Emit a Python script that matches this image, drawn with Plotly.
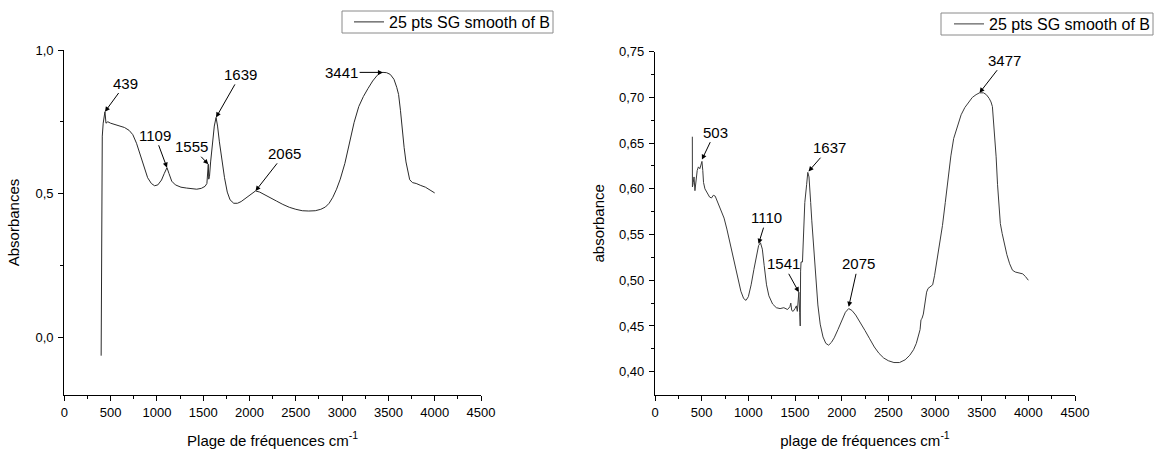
import plotly.graph_objects as go

# ---------------- data ----------------
legend_name = "25 pts SG smooth of B"

left_x = [398, 400, 403, 406, 410, 420, 439, 450, 470, 500, 550, 600, 650, 700, 740, 780, 820, 860, 900, 940,
          975, 1010, 1050, 1080, 1109, 1130, 1160, 1200, 1260, 1320, 1380, 1430, 1480, 1520, 1540, 1548, 1555,
          1560, 1568, 1580, 1600, 1620, 1639, 1655, 1675, 1700, 1730, 1760, 1790, 1830, 1870, 1910, 1950, 2000,
          2065, 2110, 2160, 2220, 2290, 2360, 2430, 2500, 2570, 2640, 2710, 2770, 2820, 2860, 2900, 2940, 2980,
          3030, 3080, 3130, 3180, 3230, 3280, 3330, 3380, 3420, 3441, 3480, 3520, 3560, 3590, 3610, 3630, 3650,
          3670, 3690, 3710, 3730, 3760, 3800, 3850, 3900, 3950, 4000]
left_y = [-0.065, 0.30, 0.51, 0.60, 0.70, 0.745, 0.785, 0.745, 0.75, 0.745, 0.74, 0.735, 0.73, 0.72, 0.705,
          0.675, 0.635, 0.59, 0.555, 0.535, 0.527, 0.53, 0.547, 0.57, 0.59, 0.57, 0.543, 0.53, 0.522, 0.519,
          0.517, 0.515, 0.518, 0.525, 0.535, 0.59, 0.602, 0.55, 0.56, 0.61, 0.68, 0.735, 0.765, 0.735, 0.68,
          0.62, 0.555, 0.505, 0.478, 0.466, 0.466, 0.472, 0.481, 0.495, 0.509, 0.505, 0.497, 0.486, 0.474,
          0.462, 0.452, 0.445, 0.44, 0.439, 0.44, 0.445, 0.453, 0.466, 0.487, 0.515, 0.55, 0.605, 0.68, 0.748,
          0.803, 0.838, 0.866, 0.892, 0.912, 0.921, 0.922, 0.921, 0.915, 0.898, 0.87, 0.845, 0.79, 0.72, 0.66,
          0.61, 0.575, 0.548, 0.538, 0.535, 0.528, 0.522, 0.512, 0.502]

right_x = [400, 401, 410, 418, 428, 440, 452, 465, 480, 492, 503, 512, 520, 535, 560, 585, 605, 625, 645, 665,
           690, 715, 740, 770, 800, 830, 860, 890, 920, 950, 975, 1000, 1030, 1060, 1085, 1110, 1130, 1150, 1170,
           1195, 1220, 1260, 1300, 1340, 1380, 1420, 1445, 1455, 1465, 1480, 1500, 1515, 1525, 1535, 1541, 1550,
           1556, 1560, 1565, 1580, 1590, 1605, 1625, 1637, 1650, 1660, 1668, 1680, 1700, 1720, 1745, 1770, 1800,
           1830, 1860, 1890, 1920, 1960, 2000, 2040, 2075, 2110, 2150, 2200, 2250, 2300, 2350, 2400, 2450, 2500,
           2560, 2620, 2680, 2730, 2770, 2800, 2820, 2840, 2850, 2860, 2875, 2895, 2910, 2925, 2950, 2975, 2995,
           3020, 3050, 3080, 3110, 3140, 3170, 3200, 3240, 3280, 3320, 3360, 3400, 3440, 3477, 3520, 3550, 3580,
           3600, 3615, 3625, 3640, 3655, 3670, 3685, 3700, 3720, 3740, 3770, 3800, 3830, 3860, 3900, 3940, 3970,
           4000]
right_y = [0.657, 0.602, 0.607, 0.613, 0.598, 0.608, 0.62, 0.624, 0.622, 0.626, 0.630, 0.62, 0.607, 0.600,
           0.595, 0.591, 0.590, 0.593, 0.592, 0.587, 0.582, 0.576, 0.568, 0.556, 0.543, 0.529, 0.514, 0.501,
           0.488, 0.480, 0.478, 0.482, 0.495, 0.512, 0.527, 0.538, 0.541, 0.534, 0.516, 0.495, 0.483, 0.474,
           0.470, 0.469, 0.470, 0.468, 0.471, 0.475, 0.467, 0.466, 0.469, 0.472, 0.466, 0.485, 0.487, 0.465,
           0.45, 0.51, 0.52, 0.52, 0.555, 0.585, 0.605, 0.618, 0.613, 0.59, 0.585, 0.565, 0.535, 0.505, 0.473,
           0.452, 0.438, 0.431, 0.429, 0.432, 0.437, 0.446, 0.456, 0.465, 0.469, 0.467, 0.462, 0.454, 0.445,
           0.436, 0.427, 0.42, 0.415, 0.412, 0.41, 0.41, 0.413, 0.418, 0.424, 0.431, 0.438, 0.446, 0.457, 0.458,
           0.463, 0.478, 0.487, 0.491, 0.493, 0.495, 0.505, 0.52, 0.54, 0.56, 0.585, 0.612, 0.636, 0.655, 0.669,
           0.681, 0.689, 0.695, 0.700, 0.703, 0.705, 0.705, 0.703, 0.699, 0.695, 0.69, 0.677, 0.655, 0.635,
           0.605, 0.58, 0.562, 0.551, 0.54, 0.528, 0.518, 0.511, 0.509, 0.508, 0.507, 0.504, 0.500]

x_tickvals = [0, 500, 1000, 1500, 2000, 2500, 3000, 3500, 4000, 4500]
x_ticktext = ["0", "500", "1000", "1500", "2000", "2500", "3000", "3500", "4000", "4500"]
x_minor = [250, 750, 1250, 1750, 2250, 2750, 3250, 3750, 4250]

left_y_tickvals = [0.0, 0.5, 1.0]
left_y_ticktext = ["0,0", "0,5", "1,0"]
left_y_minor = [0.25, 0.75]

right_y_tickvals = [0.40, 0.45, 0.50, 0.55, 0.60, 0.65, 0.70, 0.75]
right_y_ticktext = ["0,40", "0,45", "0,50", "0,55", "0,60", "0,65", "0,70", "0,75"]
right_y_minor = [0.425, 0.475, 0.525, 0.575, 0.625, 0.675, 0.725]

# peak labels: label, tip x, tip y, text x, text y
left_peaks = [("439", 439, 0.785, 666, 0.885),
              ("1109", 1109, 0.59, 979, 0.703),
              ("1555", 1555, 0.602, 1375, 0.663),
              ("1639", 1639, 0.765, 1904, 0.915),
              ("2065", 2065, 0.509, 2383, 0.64),
              ("3441", 3441, 0.922, 2995, 0.922)]
right_peaks = [("503", 503, 0.632, 643, 0.662),
               ("1110", 1110, 0.54, 1196, 0.5685),
               ("1541", 1541, 0.487, 1374, 0.518),
               ("1637", 1645, 0.619, 1867, 0.645),
               ("2075", 2075, 0.471, 2178, 0.518),
               ("3477", 3477, 0.705, 3749, 0.7407)]

# ---------------- figure ----------------
W, H = 1162, 455
FONT = "Arial, Liberation Sans, sans-serif"

fig = go.Figure()
fig.add_trace(go.Scatter(x=left_x, y=left_y, mode="lines", name=legend_name,
                         line=dict(color="#2a2a2a", width=1), xaxis="x", yaxis="y", legend="legend"))
fig.add_trace(go.Scatter(x=right_x, y=right_y, mode="lines", name=legend_name,
                         line=dict(color="#3a3a3a", width=1), xaxis="x2", yaxis="y2", legend="legend2"))

def axis_common():
    return dict(showline=True, linecolor="black", linewidth=1.3, ticks="outside", ticklen=5,
                tickwidth=1, tickcolor="black", showgrid=False, zeroline=False, automargin=False,
                tickfont=dict(family=FONT, size=13, color="black"))

xa = axis_common()
xa.update(domain=[64.3 / W, 481 / W], range=[0, 4500], tickmode="array", tickvals=x_tickvals,
          ticktext=x_ticktext, anchor="y",
          minor=dict(tickmode="array", tickvals=x_minor, ticks="outside", ticklen=3, tickcolor="black"),
          title=dict(text="Plage de fréquences cm<sup>-1</sup>", font=dict(family=FONT, size=15, color="black"),
                     standoff=16))
ya = axis_common()
ya.update(domain=[1 - 395 / H, 1 - 50 / H], range=[-0.202, 1.0], tickmode="array", tickvals=left_y_tickvals,
          ticktext=left_y_ticktext, anchor="x", ticklabelstandoff=2,
          minor=dict(tickmode="array", tickvals=left_y_minor, ticks="outside", ticklen=3, tickcolor="black"),
          title=dict(text="Absorbances", font=dict(family=FONT, size=15, color="black"), standoff=12))
xa2 = axis_common()
xa2.update(domain=[655 / W, 1075 / W], range=[0, 4500], tickmode="array", tickvals=x_tickvals,
           ticktext=x_ticktext, anchor="y2",
           minor=dict(tickmode="array", tickvals=x_minor, ticks="outside", ticklen=3, tickcolor="black"),
           title=dict(text="plage de fréquences cm<sup>-1</sup>", font=dict(family=FONT, size=15, color="black"),
                      standoff=16))
ya2 = axis_common()
ya2.update(domain=[1 - 395 / H, 1 - 51.7 / H], range=[0.3745, 0.75], tickmode="array",
           tickvals=right_y_tickvals, ticktext=right_y_ticktext, anchor="x2", ticklabelstandoff=2,
           minor=dict(tickmode="array", tickvals=right_y_minor, ticks="outside", ticklen=3, tickcolor="black"),
           title=dict(text="absorbance", font=dict(family=FONT, size=15, color="black"), standoff=10))

legend_style = dict(bgcolor="rgba(0,0,0,0)", borderwidth=0, itemwidth=30,
                    font=dict(family=FONT, size=16, color="black"), xanchor="right", yanchor="middle")

fig.update_layout(
    width=W, height=H, margin=dict(l=0, r=0, t=0, b=0),
    template="none", paper_bgcolor="white", plot_bgcolor="white",
    font=dict(family=FONT, color="black"),
    xaxis=xa, yaxis=ya, xaxis2=xa2, yaxis2=ya2,
    showlegend=True,
    legend=dict(x=555 / W, y=1 - 22 / H, **legend_style),
    legend2=dict(x=1155 / W, y=1 - 24 / H, **legend_style),
    shapes=[
        dict(type="rect", xref="paper", yref="paper", x0=342 / W, x1=553 / W, y0=1 - 33 / H, y1=1 - 11 / H,
             line=dict(color="#8a8a8a", width=1), fillcolor="rgba(0,0,0,0)", layer="below"),
        dict(type="rect", xref="paper", yref="paper", x0=941 / W, x1=1153 / W, y0=1 - 35 / H, y1=1 - 13 / H,
             line=dict(color="#8a8a8a", width=1), fillcolor="rgba(0,0,0,0)", layer="below"),
    ],
)

for lab, tx, ty, ax_, ay_ in left_peaks:
    fig.add_annotation(x=tx, y=ty, ax=ax_, ay=ay_, xref="x", yref="y", axref="x", ayref="y",
                       text=lab, showarrow=True, arrowhead=2, arrowsize=1, arrowwidth=1,
                       arrowcolor="black", font=dict(family=FONT, size=15, color="black"))
for lab, tx, ty, ax_, ay_ in right_peaks:
    fig.add_annotation(x=tx, y=ty, ax=ax_, ay=ay_, xref="x2", yref="y2", axref="x2", ayref="y2",
                       text=lab, showarrow=True, arrowhead=2, arrowsize=1, arrowwidth=1,
                       arrowcolor="black", font=dict(family=FONT, size=15, color="black"))

fig.write_html("out.html", config={"displayModeBar": False},
               post_script="document.body.style.margin='0';document.body.style.overflow='hidden';")
